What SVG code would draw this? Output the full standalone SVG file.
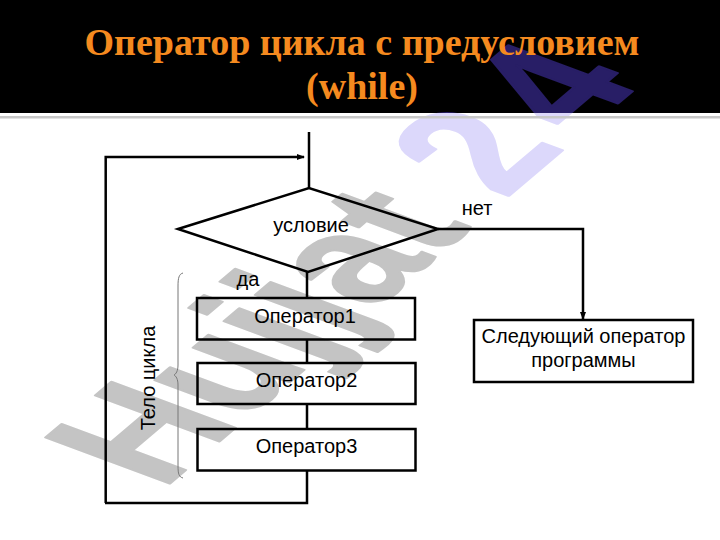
<svg xmlns="http://www.w3.org/2000/svg" width="720" height="540" viewBox="0 0 720 540">
<style>
.wm{font-family:"Liberation Sans",Arial,sans-serif;font-weight:bold;font-size:100px;stroke-width:1.5;stroke-linejoin:round}
.gr{fill:#c4c4c4;stroke:#c4c4c4}
.lv{fill:#dcd8fb;stroke:#dcd8fb}
.nv{fill:#281e66;stroke:#281e66}
.t{font-family:"Liberation Sans",Arial,sans-serif;font-size:20px;fill:#000;text-anchor:middle}
.h{font-family:"Liberation Serif","Times New Roman",serif;font-weight:bold;font-size:38px;fill:#F58A1F;text-anchor:middle}
.s{fill:none;stroke:#000;stroke-width:2.5}
.c{fill:none;stroke:#000;stroke-width:2.5}
</style>
<defs>
<marker id="a" markerWidth="8" markerHeight="8" refX="7" refY="4" orient="auto" markerUnits="userSpaceOnUse"><path d="M0,1L8,4L0,7Z" fill="#000"/></marker>
<clipPath id="hd"><rect x="0" y="0" width="720" height="113"/></clipPath>
<clipPath id="bd"><rect x="0" y="113" width="720" height="427"/></clipPath>
</defs>
<rect width="720" height="540" fill="#fff"/>
<g clip-path="url(#bd)">
<text class="wm" transform="matrix(1.12 -0.95 1.80 0.67 162 490)"><tspan class="gr">Hujjat</tspan><tspan class="lv" x="306">2</tspan><tspan class="lv" x="374">4</tspan></text>
</g>
<rect width="720" height="113" fill="#000"/>
<g clip-path="url(#hd)">
<text class="wm" transform="matrix(1.12 -0.95 1.80 0.67 162 490)"><tspan class="nv" x="306">2</tspan><tspan class="nv" x="374">4</tspan></text>
</g>
<rect y="116" width="720" height="2.5" fill="#c8c8c8"/>
<g id="title"><text class="h" x="362" y="55">Оператор цикла с предусловием</text><text class="h" x="362" y="99">(while)</text></g>
<g id="connectors">
<path class="c" d="M309,132V188"/>
<path class="c" d="M105.700,503V157H304" marker-end="url(#a)"/>
<path class="c" d="M438,229H583V319" marker-end="url(#a)"/>
<path class="c" d="M307,271V298M307,340V363M307,404V429M307,470V503H105"/>
<path d="M183,273C179,274 178,278 178,286V365C178,371 176,374 174,375C176,376 178,379 178,385V466C178,474 179,477 183,478" fill="none" stroke="#777" stroke-width="1"/>
</g>
<g id="cond"><path class="s" d="M178,229L309,188L438,229L308,272Z"/><text class="t" x="311" y="232">условие</text></g>
<g id="op1"><rect class="s" x="197" y="298" width="218" height="41.500"/><text class="t" x="305" y="323">Оператор1</text></g>
<g id="op2"><rect class="s" x="197.500" y="363" width="218" height="41"/><text class="t" x="306.500" y="387">Оператор2</text></g>
<g id="op3"><rect class="s" x="197.500" y="429" width="218" height="41.500"/><text class="t" x="306.500" y="453">Оператор3</text></g>
<g id="next"><rect class="s" x="474" y="320" width="219" height="62"/><text class="t" x="583.500" y="343">Следующий оператор</text><text class="t" x="583.500" y="367">программы</text></g>
<g id="labels">
<text class="t" x="477" y="215">нет</text>
<text class="t" x="248" y="286">да</text>
<text class="t" transform="translate(155 378) rotate(-90)">Тело цикла</text>
</g>
</svg>
